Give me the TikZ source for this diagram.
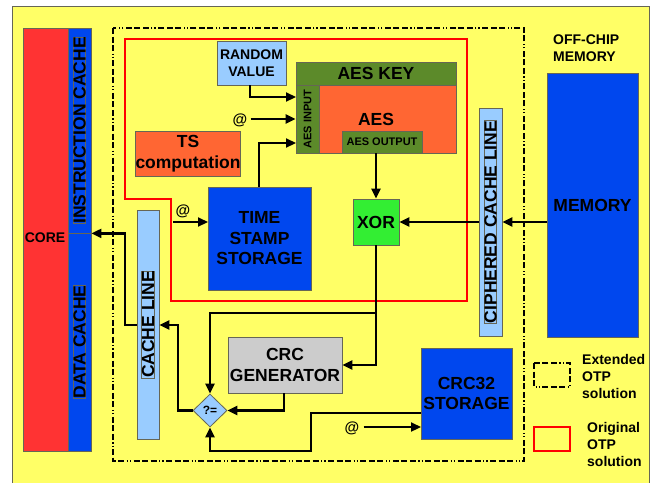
\documentclass[tikz,border=0pt]{standalone}
\usepackage{fontspec}
\setmainfont{Liberation Sans}
\usetikzlibrary{arrows.meta,shapes.geometric}
\definecolor{bgyellow}{HTML}{FFFF66}
\definecolor{corered}{HTML}{FF3333}
\definecolor{cacheblue}{HTML}{0047EE}
\definecolor{lightblue}{HTML}{99CCFF}
\definecolor{keygreen}{HTML}{5C8A2A}
\definecolor{aesorange}{HTML}{FF6633}
\definecolor{xorgreen}{HTML}{33EE33}
\definecolor{crcgray}{HTML}{CCCCCC}
\definecolor{edgegray}{HTML}{666655}
\begin{document}
\begin{tikzpicture}[x=1pt,y=-1pt,
  blk/.style={draw=edgegray,line width=0.8pt,inner sep=0pt,align=center,
    font=\bfseries\fontsize{17.5}{20.5}\selectfont},
  smalltxt/.style={font=\bfseries\fontsize{14}{17}\selectfont,inner sep=0pt},
  tinytxt/.style={font=\bfseries\fontsize{11}{13}\selectfont},
  arr/.style={line width=2.2pt,-{Triangle[length=10pt,width=9pt]}},
  wire/.style={line width=2.2pt},
  extframe/.style={line width=2pt,dash pattern=on 6pt off 2.5pt on 6pt off 2.5pt on 6pt off 2.5pt on 1.2pt off 2pt on 1.2pt off 2.5pt},
  origframe/.style={line width=2pt,draw=red},
  atlbl/.style={font=\bfseries\fontsize{15}{17}\selectfont,inner sep=0pt}
]
\useasboundingbox (0,0) rectangle (658,482);
\fill[white] (0,0) rectangle (658,482);
\fill[bgyellow,draw=edgegray,line width=1pt] (12,6) rectangle (649,490);

% core and caches
\node[blk,fill=corered,minimum width=45pt,minimum height=423pt] (core) at (45.5,239.5) {};
\node[smalltxt] (coretxt) at (45,238) {CORE};
\node[blk,fill=cacheblue,minimum width=23pt,minimum height=205pt] (icache) at (79.5,130.5) {};
\node[blk,rotate=90] at (icache) {INSTRUCTION CACHE};
\node[blk,fill=cacheblue,minimum width=23pt,minimum height=218pt] (dcache) at (79.5,342) {};
\node[blk,rotate=90] at (dcache) {DATA CACHE};

% frames
\draw[extframe] (113,28) rectangle (524,461);
\draw[origframe] (125,39) -- (467,39) -- (467,301) -- (171,301) -- (171,199) -- (125,199) -- cycle;

% blocks
\node[blk,fill=lightblue,minimum width=69pt,minimum height=44pt,font=\bfseries\fontsize{14}{17}\selectfont] (rv) at (251.5,63) {RANDOM\\VALUE};
\node[blk,fill=keygreen,minimum width=160pt,minimum height=23pt] (aeskey) at (376,73.5) {AES KEY};
\node[blk,fill=keygreen,minimum width=23pt,minimum height=68pt] (aesin) at (307.5,119) {};
\node[tinytxt,rotate=90,inner sep=0pt] at (aesin) {AES INPUT};
\node[blk,fill=aesorange,minimum width=137pt,minimum height=68pt] (aes) at (387.5,119) {};
\node[blk,draw=none] (aestxt) at (376,119) {AES};
\node[blk,fill=keygreen,minimum width=80pt,minimum height=22pt,tinytxt] (aesout) at (382,142) {AES OUTPUT};
\node[blk,fill=aesorange,minimum width=102pt,minimum height=45pt] (tsc) at (188,153.5) {TS\\computation};
\node[blk,fill=cacheblue,minimum width=103pt,minimum height=103pt] (tss) at (259.5,238.5) {TIME\\STAMP\\STORAGE};
\node[blk,fill=xorgreen,minimum width=46pt,minimum height=46pt] (xor) at (376,222) {XOR};
\node[blk,fill=lightblue,minimum width=23pt,minimum height=228pt] (ccl) at (490.5,222) {};
\node[blk,rotate=90] at (ccl) {CIPHERED CACHE LINE};
\node[blk,fill=cacheblue,minimum width=91pt,minimum height=264pt] (mem) at (592.5,205) {MEMORY};
\node[smalltxt,align=left,anchor=west] (offchip) at (553,48) {OFF-CHIP\\MEMORY};
\node[blk,fill=crcgray,minimum width=114pt,minimum height=56pt] (crcgen) at (285,365) {CRC\\GENERATOR};
\node[blk,fill=lightblue,shape=diamond,minimum width=34pt,minimum height=33pt,font=\bfseries\fontsize{12}{14}\selectfont] (cmp) at (210,410.5) {?=};
\node[blk,fill=cacheblue,minimum width=91pt,minimum height=91pt] (crc32) at (466.5,393.5) {CRC32\\STORAGE};
\node[blk,fill=lightblue,minimum width=22pt,minimum height=229pt] (cl) at (148,324.5) {};
\node[blk,rotate=90] at (cl) {CACHE LINE};

% labels @
\node[atlbl] (at1) at (240,120) {@};
\node[atlbl] (at2) at (183,211) {@};
\node[atlbl] (at3) at (352,428) {@};

% coordinates
\coordinate (rvin) at (296,97);
\coordinate (tsin) at (296,143);
\coordinate (at2s) at (173,222);
\coordinate (tssin) at (208,222);
\coordinate (br) at (376,313);
\coordinate (c32out) at (421,413);
\coordinate (c32a) at (311,413);
\coordinate (c32b) at (311,451);
\coordinate (c32in) at (421,427);
\coordinate (clr) at (178,410.5);
\coordinate (cll) at (125,325);

% connectors
\draw[arr] (rv.south -| 250,0) |- (rvin);
\draw[arr] (at1.east) ++(3,-1) -- (aesin.west);
\draw[arr] (tss.north -| 259,0) |- (tsin);
\draw[arr] (at2s) -- (tssin);
\draw[arr] (aesout.south -| xor.north) -- (xor.north);
\draw[arr] (mem.west |- ccl.east) -- (ccl.east);
\draw[arr] (ccl.west) -- (xor.east);
\draw[arr] (xor.south) |- (crcgen.east);
\draw[arr] (br) -| (cmp.north);
\draw[arr] (crcgen.south -| 284,0) |- (cmp.east);
\draw[arr] (c32out) -- (c32a) -- (c32b) -| (cmp.south);
\draw[arr] (at3.east) ++(4,-1) -- (c32in);
\draw[arr] (cmp.west) -- (clr) |- (cl.east |- cll);
\draw[arr] (cl.west |- cll) -- (cll) |- (icache.south east);

% legend
\draw[extframe] (534,363) rectangle (570,387);
\node[smalltxt,align=left,anchor=west] (legext) at (582,376) {Extended\\OTP\\solution};
\draw[origframe] (534,427) rectangle (570,451);
\node[smalltxt,align=left,anchor=west] (legorig) at (587,444) {Original\\OTP\\solution};
\end{tikzpicture}
\end{document}
